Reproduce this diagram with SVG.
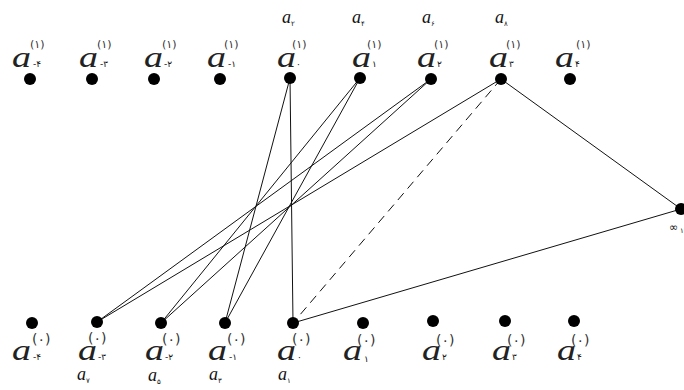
<svg xmlns="http://www.w3.org/2000/svg" width="684" height="390" viewBox="0 0 684 390">
<style>
.bg{fill:#fff}
.dot{fill:#000}
.a{font-family:"Liberation Serif",serif;font-style:italic;font-size:30px;fill:#222}
.as{font-family:"Liberation Serif",serif;font-style:italic;font-size:18px;fill:#111}
.sub{font-family:"DejaVu Sans","Noto Sans",sans-serif;font-size:9px;fill:#111}
.sup1{font-family:"DejaVu Sans","Noto Sans",sans-serif;font-size:11px;fill:#333}
.sup0{font-family:"DejaVu Sans","Noto Sans",sans-serif;font-size:14px;fill:#333}
.ssub{font-family:"DejaVu Sans","Noto Sans",sans-serif;font-size:7px;fill:#111}
.ln{stroke:#111;stroke-width:1;fill:none}
.dash{stroke:#111;stroke-width:1;fill:none;stroke-dasharray:9 6}
</style>
<rect class="bg" x="0" y="0" width="684" height="390"/>
<g id="connectors">
<line class="ln" x1="290" y1="78" x2="293" y2="323"/>
<line class="ln" x1="290" y1="78" x2="225" y2="323"/>
<line class="ln" x1="360" y1="78" x2="225" y2="323"/>
<line class="ln" x1="360" y1="78" x2="161" y2="323"/>
<line class="ln" x1="431" y1="79" x2="161" y2="323"/>
<line class="ln" x1="431" y1="79" x2="97" y2="322"/>
<line class="ln" x1="501" y1="79" x2="97" y2="322"/>
<line class="dash" x1="501" y1="79" x2="293" y2="323"/>
<line class="ln" x1="501" y1="79" x2="681" y2="209"/>
<line class="ln" x1="681" y1="209" x2="293" y2="323"/>
</g>
<g id="top-m4"><circle class="dot" cx="30" cy="79" r="6"/><text class="a" x="12" y="67" textLength="19" lengthAdjust="spacingAndGlyphs">a</text><text class="sub" x="33" y="67">-۴</text><text class="sup1" x="30" y="48">(۱)</text></g>
<g id="top-m3"><circle class="dot" cx="92" cy="79" r="6"/><text class="a" x="79" y="67" textLength="19" lengthAdjust="spacingAndGlyphs">a</text><text class="sub" x="100" y="67">-۳</text><text class="sup1" x="97" y="48">(۱)</text></g>
<g id="top-m2"><circle class="dot" cx="154" cy="79" r="6"/><text class="a" x="144" y="67" textLength="19" lengthAdjust="spacingAndGlyphs">a</text><text class="sub" x="164" y="67">-۲</text><text class="sup1" x="162" y="48">(۱)</text></g>
<g id="top-m1"><circle class="dot" cx="220" cy="79" r="6"/><text class="a" x="207" y="67" textLength="19" lengthAdjust="spacingAndGlyphs">a</text><text class="sub" x="228" y="67">-۱</text><text class="sup1" x="224" y="48">(۱)</text></g>
<g id="top-0"><circle class="dot" cx="290" cy="78" r="6"/><text class="a" x="277" y="67" textLength="19" lengthAdjust="spacingAndGlyphs">a</text><text class="sub" x="296" y="67">۰</text><text class="sup1" x="292" y="48">(۱)</text><text class="as" x="282" y="23">a</text><text class="ssub" x="291" y="26">۲</text></g>
<g id="top-1"><circle class="dot" cx="360" cy="78" r="6"/><text class="a" x="352" y="67" textLength="19" lengthAdjust="spacingAndGlyphs">a</text><text class="sub" x="372" y="67">۱</text><text class="sup1" x="367" y="48">(۱)</text><text class="as" x="352" y="23">a</text><text class="ssub" x="361" y="26">۴</text></g>
<g id="top-2"><circle class="dot" cx="431" cy="79" r="6"/><text class="a" x="417" y="67" textLength="19" lengthAdjust="spacingAndGlyphs">a</text><text class="sub" x="437" y="67">۲</text><text class="sup1" x="434" y="48">(۱)</text><text class="as" x="422" y="23">a</text><text class="ssub" x="431" y="26">۶</text></g>
<g id="top-3"><circle class="dot" cx="501" cy="79" r="6"/><text class="a" x="489" y="67" textLength="19" lengthAdjust="spacingAndGlyphs">a</text><text class="sub" x="509" y="67">۳</text><text class="sup1" x="506" y="48">(۱)</text><text class="as" x="495" y="23">a</text><text class="ssub" x="504" y="26">۸</text></g>
<g id="top-4"><circle class="dot" cx="570" cy="79" r="6"/><text class="a" x="555" y="67" textLength="19" lengthAdjust="spacingAndGlyphs">a</text><text class="sub" x="575" y="67">۴</text><text class="sup1" x="576" y="48">(۱)</text></g>
<g id="bot-m4"><circle class="dot" cx="32" cy="323" r="6"/><text class="a" x="12" y="360" textLength="19" lengthAdjust="spacingAndGlyphs">a</text><text class="sub" x="33" y="360">-۴</text><text class="sup0" x="32" y="344">(۰)</text></g>
<g id="bot-m3"><circle class="dot" cx="97" cy="322" r="6"/><text class="a" x="78" y="360" textLength="19" lengthAdjust="spacingAndGlyphs">a</text><text class="sub" x="98" y="360">-۳</text><text class="sup0" x="88" y="343">(۰)</text><text class="as" x="77" y="380">a</text><text class="ssub" x="86" y="383">۷</text></g>
<g id="bot-m2"><circle class="dot" cx="161" cy="323" r="6"/><text class="a" x="145" y="360" textLength="19" lengthAdjust="spacingAndGlyphs">a</text><text class="sub" x="165" y="360">-۲</text><text class="sup0" x="162" y="344">(۰)</text><text class="as" x="148" y="381">a</text><text class="ssub" x="157" y="384">۵</text></g>
<g id="bot-m1"><circle class="dot" cx="225" cy="323" r="6"/><text class="a" x="208" y="360" textLength="19" lengthAdjust="spacingAndGlyphs">a</text><text class="sub" x="229" y="360">-۱</text><text class="sup0" x="227" y="344">(۰)</text><text class="as" x="209" y="380">a</text><text class="ssub" x="218" y="383">۳</text></g>
<g id="bot-0"><circle class="dot" cx="293" cy="323" r="6"/><text class="a" x="277" y="360" textLength="19" lengthAdjust="spacingAndGlyphs">a</text><text class="sub" x="297" y="360">۰</text><text class="sup0" x="292" y="344">(۰)</text><text class="as" x="278" y="380">a</text><text class="ssub" x="287" y="383">۱</text></g>
<g id="bot-1"><circle class="dot" cx="363" cy="323" r="6"/><text class="a" x="343" y="360" textLength="19" lengthAdjust="spacingAndGlyphs">a</text><text class="sub" x="364" y="362">۱</text><text class="sup0" x="357" y="345">(۰)</text></g>
<g id="bot-2"><circle class="dot" cx="433" cy="321" r="6"/><text class="a" x="422" y="360" textLength="19" lengthAdjust="spacingAndGlyphs">a</text><text class="sub" x="442" y="360">۲</text><text class="sup0" x="436" y="345">(۰)</text></g>
<g id="bot-3"><circle class="dot" cx="505" cy="321" r="6"/><text class="a" x="492" y="360" textLength="19" lengthAdjust="spacingAndGlyphs">a</text><text class="sub" x="512" y="360">۳</text><text class="sup0" x="507" y="345">(۰)</text></g>
<g id="bot-4"><circle class="dot" cx="574" cy="321" r="6"/><text class="a" x="557" y="360" textLength="19" lengthAdjust="spacingAndGlyphs">a</text><text class="sub" x="577" y="360">۴</text><text class="sup0" x="571" y="345">(۰)</text></g>
<g id="inf"><circle class="dot" cx="681" cy="209" r="6"/><text class="sub" x="669" y="231" style="font-size:11px">∞</text><text class="ssub" x="680" y="233">۱</text></g>
</svg>
